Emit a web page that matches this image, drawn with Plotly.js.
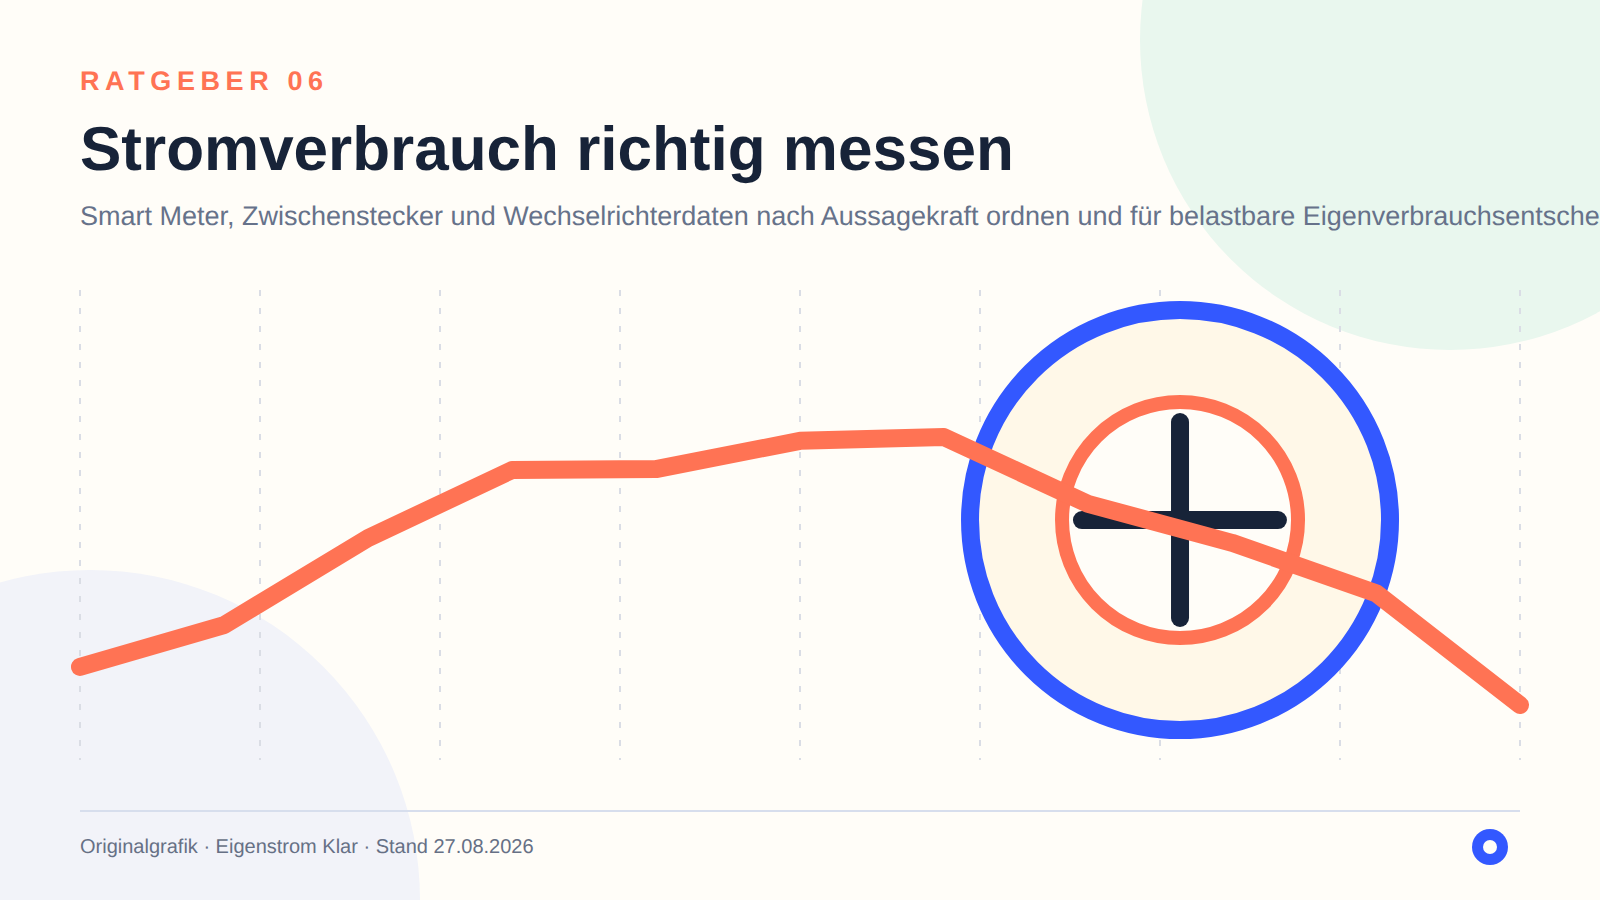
<!DOCTYPE html>
<html lang="de"><head><meta charset="utf-8">
<script src="https://cdn.plot.ly/plotly-3.0.1.min.js"></script>
<style>
html,body{margin:0;padding:0;background:#FFFDF8;overflow:hidden}
#c{width:1600px;height:900px}
.js-line{stroke-linecap:round;stroke-linejoin:round}
text{text-rendering:geometricPrecision}
g.annotation[data-index="0"] text{letter-spacing:5.6px}
</style></head><body><div id="c"></div>
<script>
const xValues=[0,10,20,30,40,50,60,70,80,90,100];
const yValues=[19.8,28.7,47.2,61.7,61.9,67.9,68.7,54.5,46.2,35.5,11.7];
const gridTicks=[0,12.5,25,37.5,50,62.5,75,87.5,100];
const crossX=[76.39,76.39,null,69.58,83.19];
const crossY=[71.91,30.21,null,51.06,51.06];
const eyebrow="RATGEBER 06";
const headline="Stromverbrauch richtig messen";
const subline="Smart Meter, Zwischenstecker und Wechselrichterdaten nach Aussagekraft ordnen und für belastbare Eigenverbrauchsentscheidungen nutzen.";
const footer="Originalgrafik · Eigenstrom Klar · Stand 27.08.2026";
const W=1600,H=900;
const px=v=>v/W, py=v=>1-v/H;
const circ=(cx,cy,r,fill,lw,lc)=>({type:'circle',xref:'paper',yref:'paper',x0:px(cx-r),x1:px(cx+r),y0:py(cy+r),y1:py(cy-r),fillcolor:fill,line:{width:lw||0,color:lc||'rgba(0,0,0,0)'},layer:'below'});
const ring=(r,fill,lw,lc)=>({type:'circle',xref:'x',yref:'y',xsizemode:'pixel',ysizemode:'pixel',xanchor:76.39,yanchor:51.06,x0:-r,x1:r,y0:-r,y1:r,fillcolor:fill,line:{width:lw,color:lc},layer:'between'});
const note=(text,y,size,color,weight)=>({text,xref:'paper',yref:'paper',x:px(78.5),y:py(y),xanchor:'left',yanchor:'middle',showarrow:false,align:'left',borderpad:0,font:{family:'Liberation Sans, Arial, sans-serif',size,color,weight}});
const traces=[
 {x:crossX,y:crossY,mode:'lines',line:{color:'#172338',width:18},cliponaxis:false,hoverinfo:'skip',showlegend:false},
 {x:xValues,y:yValues,mode:'lines',line:{color:'#FF7354',width:18},cliponaxis:false,hoverinfo:'skip',showlegend:false}
];
const layout={
 width:W,height:H,margin:{l:0,r:0,t:0,b:0},paper_bgcolor:'#FFFDF8',plot_bgcolor:'rgba(0,0,0,0)',showlegend:false,
 xaxis:{domain:[50/W,1550/W],range:[-2.08333,102.08333],tickmode:'array',tickvals:gridTicks,showticklabels:false,ticks:'',zeroline:false,showline:false,showgrid:true,gridcolor:'#DADDE5',gridwidth:2,griddash:'6px,12px'},
 yaxis:{domain:[140/H,610/H],range:[0,100],showticklabels:false,ticks:'',zeroline:false,showline:false,showgrid:false},
 shapes:[
  circ(1450,40,310,'#E9F7EE'),
  circ(90,900,330,'#F2F3F9'),
  {type:'line',xref:'paper',yref:'paper',x0:px(80),x1:px(1520),y0:py(811),y1:py(811),line:{color:'#D7DEED',width:2},layer:'below'},
  ring(210,'#FFF8E8',18,'#3358FF'),
  ring(118,'#FFFDF8',14,'#FF7354'),
  circ(1490,847,18,'#3358FF'),
  circ(1490,847,7,'#FFFDF8')
 ],
 annotations:[
  note(eyebrow,81,27,'#FF7354',700),
  note(headline,149.5,62,'#172338',700),
  note(subline,216,27,'#66728A',400),
  note(footer,847,20,'#667085',400)
 ]
};
Plotly.newPlot('c',traces,layout,{displayModeBar:false,staticPlot:true});
</script></body></html>
